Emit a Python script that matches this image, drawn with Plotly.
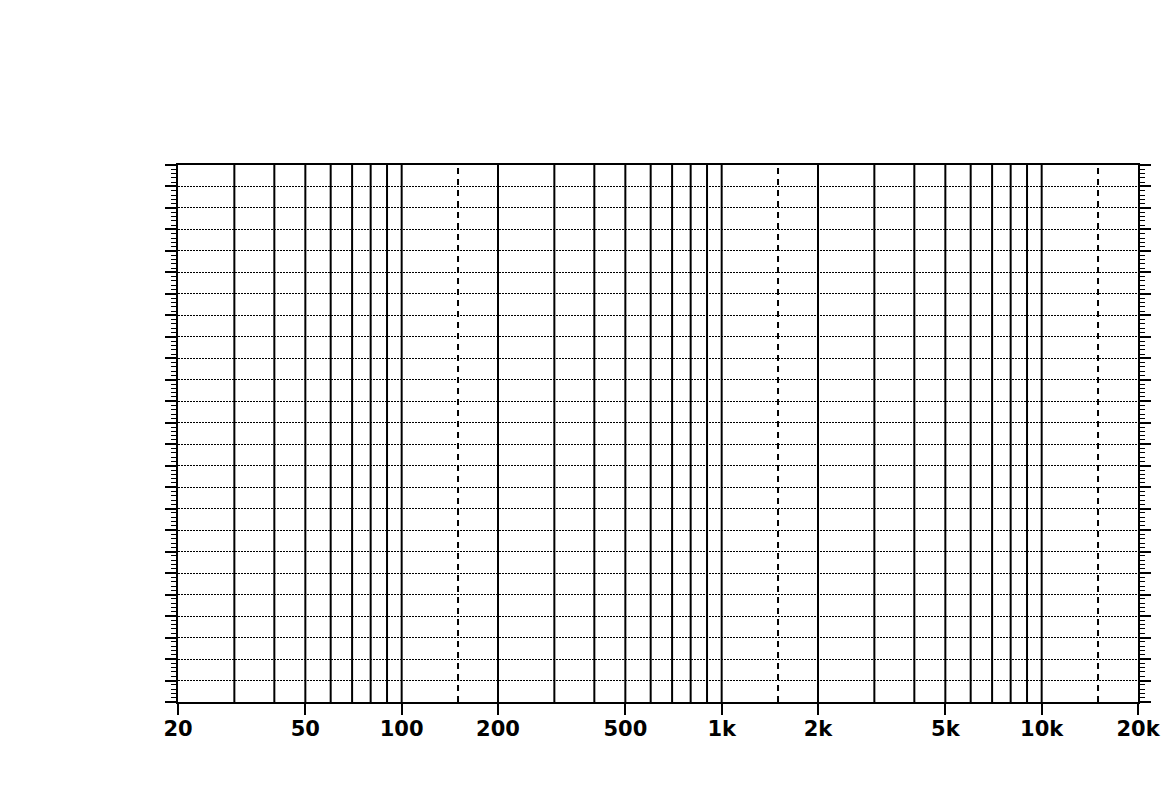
import plotly.graph_objects as go

# Frequency axis (Hz), log scale 20 Hz .. 20 kHz
x_min, x_max = 20, 20000
tick_vals = [20, 50, 100, 200, 500, 1000, 2000, 5000, 10000, 20000]
tick_text = ["20", "50", "100", "200", "500", "1k", "2k", "5k", "10k", "20k"]

# Solid vertical grid lines (every decade step)
solid_lines = [30, 40, 50, 60, 70, 80, 90, 100,
               200, 300, 400, 500, 600, 700, 800, 900, 1000,
               2000, 3000, 4000, 5000, 6000, 7000, 8000, 9000, 10000]
# Dashed vertical lines
dashed_lines = [150, 1500, 15000]

# Vertical axis: 25 divisions, no labels
y_min, y_max = 0, 25


def segments(values):
    xs, ys = [], []
    for v in values:
        xs += [v, v, None]
        ys += [y_min, y_max, None]
    return xs, ys


fig = go.Figure()

sx, sy = segments(solid_lines)
fig.add_trace(go.Scatter(x=sx, y=sy, mode="lines",
                         line=dict(color="black", width=2),
                         hoverinfo="skip", showlegend=False))

dx, dy = segments(dashed_lines)
fig.add_trace(go.Scatter(x=dx, y=dy, mode="lines",
                         line=dict(color="black", width=2, dash="6px,5px"),
                         hoverinfo="skip", showlegend=False))

# page body adds ~7px offset, margins compensate for it
fig.update_layout(
    width=1169,
    height=800,
    autosize=False,
    margin=dict(l=170, r=39, t=157, b=106),
    paper_bgcolor="white",
    plot_bgcolor="white",
    showlegend=False,
    xaxis=dict(
        type="log",
        range=[0.30103 + 1, 0.30103 + 4],
        tickvals=tick_vals,
        ticktext=tick_text,
        ticks="outside",
        ticklen=11,
        tickwidth=2,
        tickcolor="black",
        ticklabelstandoff=-4,
        showgrid=False,
        zeroline=False,
        showline=True,
        linecolor="black",
        linewidth=2,
        mirror=True,
        tickfont=dict(family="DejaVu Sans", size=21, color="black", weight="bold"),
    ),
    yaxis=dict(
        range=[y_min, y_max],
        dtick=1,
        showticklabels=False,
        ticks="outside",
        ticklen=11,
        tickwidth=2,
        tickcolor="black",
        showgrid=True,
        gridcolor="black",
        gridwidth=1,
        griddash="2px,1px",
        zeroline=False,
        showline=True,
        linecolor="black",
        linewidth=2,
        mirror="ticks",
        minor=dict(dtick=0.2, ticks="outside", ticklen=5, tickwidth=1,
                   tickcolor="black", showgrid=False),
    ),
)

fig.write_html("out.html")
